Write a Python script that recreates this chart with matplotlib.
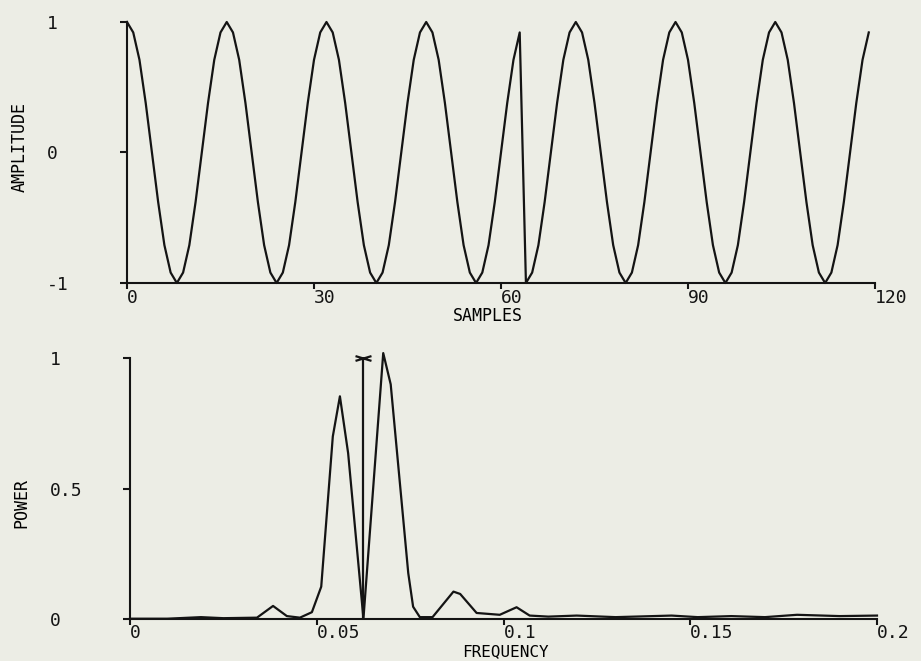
import matplotlib
matplotlib.use("Agg")
import matplotlib.pyplot as plt
from matplotlib.path import Path

# ── Données ──────────────────────────────────────────────────
samples = list(range(120))
amplitude = [
    1, 0.92, 0.71, 0.38, 0, -0.38, -0.71, -0.92, -1, -0.92, -0.71, -0.38, 0, 0.38, 0.71, 0.92,
    1, 0.92, 0.71, 0.38, 0, -0.38, -0.71, -0.92, -1, -0.92, -0.71, -0.38, 0, 0.38, 0.71, 0.92,
    1, 0.92, 0.71, 0.38, 0, -0.38, -0.71, -0.92, -1, -0.92, -0.71, -0.38, 0, 0.38, 0.71, 0.92,
    1, 0.92, 0.71, 0.38, 0, -0.38, -0.71, -0.92, -1, -0.92, -0.71, -0.38, 0, 0.38, 0.71, 0.92,
    # inversion de phase à l'échantillon 64
    -1, -0.92, -0.71, -0.38, 0, 0.38, 0.71, 0.92, 1, 0.92, 0.71, 0.38, 0, -0.38, -0.71, -0.92,
    -1, -0.92, -0.71, -0.38, 0, 0.38, 0.71, 0.92, 1, 0.92, 0.71, 0.38, 0, -0.38, -0.71, -0.92,
    -1, -0.92, -0.71, -0.38, 0, 0.38, 0.71, 0.92, 1, 0.92, 0.71, 0.38, 0, -0.38, -0.71, -0.92,
    -1, -0.92, -0.71, -0.38, 0, 0.38, 0.71, 0.92,
]

freq = [0.0, 0.010, 0.019, 0.025, 0.034, 0.0383, 0.042, 0.0455, 0.0487, 0.0512,
        0.0543, 0.0562, 0.0584, 0.0625, 0.0678, 0.0698, 0.0745, 0.0758, 0.0776, 0.0810,
        0.0866, 0.0884, 0.0928, 0.099, 0.1035, 0.107, 0.112, 0.1196, 0.130, 0.145,
        0.152, 0.161, 0.170, 0.1786, 0.190, 0.2]
power = [0.0, 0.0, 0.006, 0.002, 0.004, 0.049, 0.010, 0.004, 0.025, 0.123,
         0.70, 0.854, 0.636, 0.0, 1.02, 0.90, 0.175, 0.046, 0.006, 0.006,
         0.104, 0.095, 0.022, 0.015, 0.044, 0.012, 0.008, 0.012, 0.006, 0.012,
         0.006, 0.010, 0.006, 0.015, 0.010, 0.012]

marker_freq = 0.0625
marker_power = 1.0

top_xticks = [0, 30, 60, 90, 120]
top_yticks = [-1, 0, 1]
bot_xticks = [0, 0.05, 0.1, 0.15, 0.2]
bot_xlabels = ["0", "0.05", "0.1", "0.15", "0.2"]
bot_yticks = [0, 0.5, 1]
bot_ylabels = ["0", "0.5", "1"]

# ── Style ────────────────────────────────────────────────────
BG = "#ecede5"
INK = "#141414"
plt.rcParams["font.family"] = ["DejaVu Sans Mono"]
plt.rcParams["text.color"] = INK

fig = plt.figure(figsize=(9.21, 6.61), dpi=100, facecolor=BG)
ax1 = fig.add_axes([127 / 921, 1 - 283 / 661, 748 / 921, 261 / 661])
ax2 = fig.add_axes([130 / 921, 1 - 618.7 / 661, 747 / 921, 260.4 / 661])


def style_axes(ax):
    ax.set_facecolor(BG)
    for side in ["top", "right"]:
        ax.spines[side].set_visible(False)
    for side in ["left", "bottom"]:
        ax.spines[side].set_linewidth(1.5)
        ax.spines[side].set_color(INK)
    ax.tick_params(axis="x", direction="out", length=4, width=1.5, color=INK,
                   labelsize=13, pad=0, labelcolor=INK)
    ax.tick_params(axis="y", direction="out", length=5, width=1.5, color=INK,
                   labelsize=13, pad=52.6, labelcolor=INK)
    for lab in ax.get_xticklabels():
        lab.set_ha("left")
    for lab in ax.get_yticklabels():
        lab.set_ha("left")


# ── Signal ───────────────────────────────────────────────────
ax1.plot(samples, amplitude, color=INK, linewidth=1.6, clip_on=False)
ax1.set_xlim(0, 120)
ax1.set_ylim(-1, 1)
ax1.set_xticks(top_xticks)
ax1.set_xticklabels([str(t) for t in top_xticks])
ax1.set_yticks(top_yticks)
ax1.set_yticklabels([str(t) for t in top_yticks])
style_axes(ax1)
ax1.set_xlabel("SAMPLES", fontsize=12, va="center")
ax1.xaxis.set_label_coords(0.483, -0.128)
ax1.set_ylabel("AMPLITUDE", fontsize=12, va="center")
ax1.yaxis.set_label_coords(-0.143, 0.521)

# ── Spectre ──────────────────────────────────────────────────
ax2.plot(freq, power, color=INK, linewidth=1.6, clip_on=False)
xmark = Path([(-1, -0.3), (1, 0.3), (-1, 0.3), (1, -0.3)],
             [Path.MOVETO, Path.LINETO, Path.MOVETO, Path.LINETO])
ax2.plot([marker_freq, marker_freq], [0, marker_power], color=INK, linewidth=1.6)
ax2.plot([marker_freq], [marker_power], linestyle="none", marker=xmark,
         markersize=11.5, markeredgewidth=1.6, color=INK, clip_on=False)
ax2.set_xlim(0, 0.2)
ax2.set_ylim(0, 1)
ax2.set_xticks(bot_xticks)
ax2.set_xticklabels(bot_xlabels)
ax2.set_yticks(bot_yticks)
ax2.set_yticklabels(bot_ylabels)
style_axes(ax2)
ax2.set_xlabel("FREQUENCY", fontsize=11.5, va="center")
ax2.xaxis.set_label_coords(0.502, -0.127)
ax2.set_ylabel("POWER", fontsize=12, va="center")
ax2.yaxis.set_label_coords(-0.146, 0.444)

fig.savefig("out.png", dpi=100, facecolor=BG)
